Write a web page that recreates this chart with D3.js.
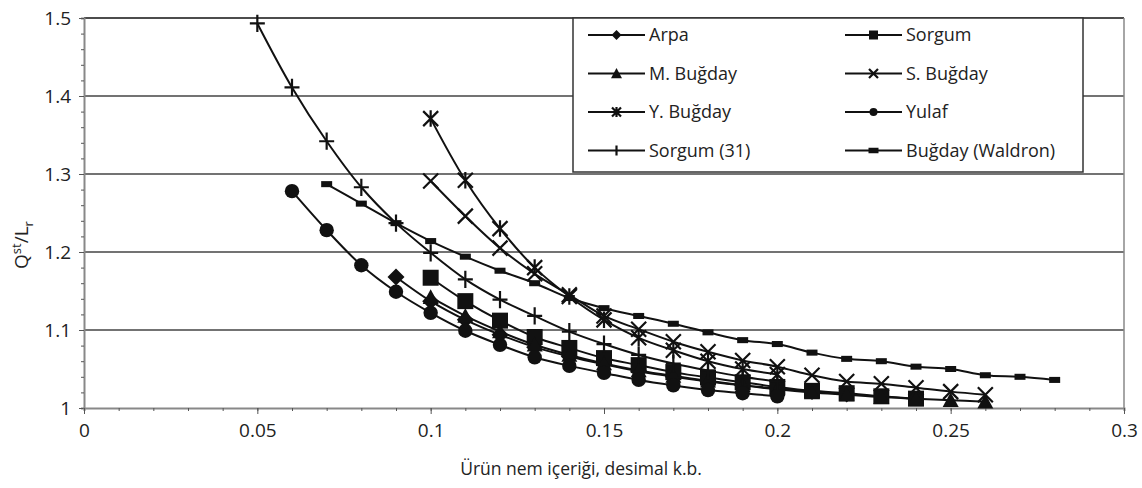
<!DOCTYPE html>
<html><head><meta charset="utf-8">
<script src="https://cdn.jsdelivr.net/npm/d3@7"></script>
<style>
html,body{margin:0;padding:0;background:#fff;}
text{font-family:"Open Sans",sans-serif;fill:#222;}
</style></head>
<body><svg id="c" width="1142" height="488"></svg>
<script>
// ---- data ----
const seriesNames = ["Arpa","Sorgum","M. Buğday","S. Buğday","Y. Buğday","Yulaf","Sorgum (31)","Buğday (Waldron)"];
const arpaX = [0.09,0.10,0.11,0.12,0.13,0.14,0.15,0.16,0.17,0.18,0.19,0.20,0.21,0.22];
const arpaY = [1.168,1.137,1.113,1.094,1.078,1.066,1.056,1.047,1.040,1.034,1.029,1.025,1.021,1.018];
const sorgumX = [0.10,0.11,0.12,0.13,0.14,0.15,0.16,0.17,0.18,0.19,0.20,0.21,0.22,0.23,0.24];
const sorgumY = [1.167,1.137,1.112,1.091,1.077,1.064,1.055,1.046,1.039,1.033,1.027,1.022,1.019,1.015,1.012];
const mbugdayX = [0.10,0.11,0.12,0.13,0.14,0.15,0.16,0.17,0.18,0.19,0.20,0.21,0.22,0.23,0.24,0.25,0.26];
const mbugdayY = [1.142,1.118,1.098,1.081,1.068,1.057,1.048,1.041,1.035,1.029,1.024,1.020,1.017,1.014,1.012,1.010,1.008];
const sbugdayX = [0.10,0.11,0.12,0.13,0.14,0.15,0.16,0.17,0.18,0.19,0.20,0.21,0.22,0.23,0.24,0.25,0.26];
const sbugdayY = [1.291,1.246,1.205,1.172,1.145,1.118,1.101,1.085,1.072,1.061,1.053,1.042,1.034,1.031,1.026,1.021,1.017];
const ybugdayX = [0.10,0.11,0.12,0.13,0.14,0.15,0.16,0.17,0.18,0.19,0.20];
const ybugdayY = [1.371,1.292,1.230,1.180,1.143,1.113,1.090,1.074,1.060,1.050,1.043];
const yulafX = [0.06,0.07,0.08,0.09,0.10,0.11,0.12,0.13,0.14,0.15,0.16,0.17,0.18,0.19,0.20];
const yulafY = [1.278,1.228,1.183,1.149,1.122,1.099,1.081,1.065,1.054,1.045,1.036,1.029,1.023,1.019,1.015];
const sorgum31X = [0.05,0.06,0.07,0.08,0.09,0.10,0.11,0.12,0.13,0.14,0.15,0.16,0.17,0.18,0.19,0.20];
const sorgum31Y = [1.493,1.411,1.342,1.283,1.237,1.199,1.165,1.139,1.118,1.098,1.082,1.068,1.057,1.048,1.040,1.034];
const waldronX = [0.07,0.08,0.09,0.10,0.11,0.12,0.13,0.14,0.15,0.16,0.17,0.18,0.19,0.20,0.21,0.22,0.23,0.24,0.25,0.26,0.27,0.28];
const waldronY = [1.287,1.262,1.237,1.214,1.194,1.176,1.160,1.141,1.128,1.118,1.108,1.097,1.087,1.082,1.071,1.063,1.060,1.053,1.050,1.042,1.040,1.036];
const xTicks = [0,0.05,0.1,0.15,0.2,0.25,0.3];
const xTickLabels = ["0","0.05","0.1","0.15","0.2","0.25","0.3"];
const yTicks = [1,1.1,1.2,1.3,1.4,1.5];
const yTickLabels = ["1","1.1","1.2","1.3","1.4","1.5"];
const xTitle = "Ürün nem içeriği, desimal k.b.";

const markerKinds = ["diamond","square","triangle","x","asterisk","circle","plus","rect"];
const seriesX = [arpaX,sorgumX,mbugdayX,sbugdayX,ybugdayX,yulafX,sorgum31X,waldronX];
const seriesY = [arpaY,sorgumY,mbugdayY,sbugdayY,ybugdayY,yulafY,sorgum31Y,waldronY];

// ---- layout ----
const svg = d3.select("#c");
const L = 84, R = 1124, T = 18, B = 408;
const x = d3.scaleLinear().domain([0,0.3]).range([L,R]);
const y = d3.scaleLinear().domain([1,1.5]).range([B,T]);

// gridlines
svg.append("g").selectAll("line").data(yTicks.slice(1)).join("line")
  .attr("x1",L).attr("x2",R).attr("y1",d=>y(d)).attr("y2",d=>y(d))
  .attr("stroke",(d,i)=> d===1.5 ? "#111" : "#444").attr("stroke-width",1.3);

// right border
svg.append("line").attr("x1",R).attr("x2",R).attr("y1",T).attr("y2",B).attr("stroke","#888").attr("stroke-width",1.5);

// y axis
const yAxis = d3.axisLeft(y).tickValues(d3.range(0,26).map(i=>1+i*0.02)).tickSize(3).tickFormat("");
const gy = svg.append("g").attr("transform",`translate(${L},0)`).call(yAxis);
gy.select(".domain").attr("stroke","#888").attr("stroke-width",2);
gy.selectAll(".tick line").attr("stroke","#555");
const gyMaj = svg.append("g").attr("transform",`translate(${L},0)`)
  .call(d3.axisLeft(y).tickValues(yTicks).tickSize(5).tickFormat((d,i)=>yTickLabels[i]));
gyMaj.select(".domain").remove();
gyMaj.selectAll(".tick line").attr("stroke","#555");
gyMaj.selectAll("text").attr("font-family","'Open Sans',sans-serif").attr("font-size",19).attr("fill","#333").attr("x",-13);

// x axis
const gx = svg.append("g").attr("transform",`translate(0,${B})`)
  .call(d3.axisBottom(x).tickValues(d3.range(0,31).map(i=>i*0.01)).tickSize(3).tickFormat(""));
gx.select(".domain").attr("stroke","#888").attr("stroke-width",2);
gx.selectAll(".tick line").attr("stroke","#555");
const gxMaj = svg.append("g").attr("transform",`translate(0,${B})`)
  .call(d3.axisBottom(x).tickValues(xTicks).tickSize(6).tickFormat((d,i)=>xTickLabels[i]));
gxMaj.select(".domain").remove();
gxMaj.selectAll(".tick line").attr("stroke","#555");
gxMaj.selectAll("text").attr("font-family","'Open Sans',sans-serif").attr("font-size",19).attr("fill","#333").attr("y",16);

// titles
svg.append("text").attr("x",581).attr("y",475).attr("text-anchor","middle").attr("font-size",17.5).attr("fill","#333").text(xTitle);
const yt = svg.append("text").attr("transform","translate(28,245) rotate(-90)").attr("text-anchor","middle").attr("font-size",19).attr("fill","#333");
yt.append("tspan").text("Q");
yt.append("tspan").attr("font-size",13).attr("dy",-7).text("st");
yt.append("tspan").attr("dy",7).text("/L");
yt.append("tspan").attr("font-size",13).attr("dy",5).text("r");

// marker path
function markerPath(kind, s){
  switch(kind){
    case "diamond": return `M0,${-s}L${s},0L0,${s}L${-s},0Z`;
    case "square": return `M${-s},${-s}H${s}V${s}H${-s}Z`;
    case "triangle": return `M0,${-s}L${s},${s*0.85}L${-s},${s*0.85}Z`;
    case "circle": return d3.symbol(d3.symbolCircle, Math.PI*s*s)();
    case "rect": return `M${-s},${-s*0.55}H${s}V${s*0.55}H${-s}Z`;
    case "x": return `M${-s},${-s}L${s},${s}M${-s},${s}L${s},${-s}`;
    case "asterisk": return `M${-s},${-s}L${s},${s}M${-s},${s}L${s},${-s}M0,${-s*1.1}V${s*1.1}`;
    case "plus": return `M${-s},0H${s}M0,${-s*1.15}V${s*1.15}`;
  }
}
const filled = k => ["diamond","square","triangle","circle","rect"].includes(k);
const plotSize = {diamond:8.5,square:8,triangle:8,circle:7.2,rect:5.5,x:7.5,asterisk:7.5,plus:7.5};

const line = d3.line().x(d=>x(d[0])).y(d=>y(d[1])).curve(d3.curveCatmullRom.alpha(0.5));

const gS = svg.append("g");
seriesNames.forEach((name,i)=>{
  const pts = seriesX[i].map((v,j)=>[v,seriesY[i][j]]);
  gS.append("path").attr("d",line(pts)).attr("fill","none").attr("stroke","#111").attr("stroke-width",2);
});
seriesNames.forEach((name,i)=>{
  const k = markerKinds[i];
  const pts = seriesX[i].map((v,j)=>[v,seriesY[i][j]]);
  gS.append("g").selectAll("path").data(pts).join("path")
    .attr("transform",d=>`translate(${x(d[0])},${y(d[1])})`)
    .attr("d",markerPath(k,plotSize[k]))
    .attr("fill",filled(k)?"#111":"none")
    .attr("stroke","#111").attr("stroke-width",filled(k)?0:2.2);
});

// legend
const lg = svg.append("g");
lg.append("rect").attr("x",573).attr("y",T).attr("width",510).attr("height",154)
  .attr("fill","#fff").attr("stroke","#333").attr("stroke-width",1.5);
const legSize = {diamond:5,square:4.5,triangle:5.5,circle:4,rect:5,x:4.5,asterisk:4.5,plus:0};
seriesNames.forEach((name,i)=>{
  const col = i%2, row = Math.floor(i/2);
  const x0 = col===0 ? 588 : 845, yy = 35 + row*38.5;
  const k = markerKinds[i];
  lg.append("line").attr("x1",x0).attr("x2",x0+57).attr("y1",yy).attr("y2",yy).attr("stroke","#111").attr("stroke-width",2);
  if(k==="plus"){
    lg.append("line").attr("x1",x0+28.5).attr("x2",x0+28.5).attr("y1",yy-5).attr("y2",yy+5).attr("stroke","#111").attr("stroke-width",2.2);
  } else {
    lg.append("path").attr("transform",`translate(${x0+28.5},${yy})`).attr("d",markerPath(k,legSize[k]))
      .attr("fill",filled(k)?"#111":"none").attr("stroke","#111").attr("stroke-width",filled(k)?0:2.2);
  }
  lg.append("text").attr("x",x0+61).attr("y",yy).attr("dy","0.35em").attr("font-size",18).attr("fill","#333").text(name);
});
</script></body></html>
